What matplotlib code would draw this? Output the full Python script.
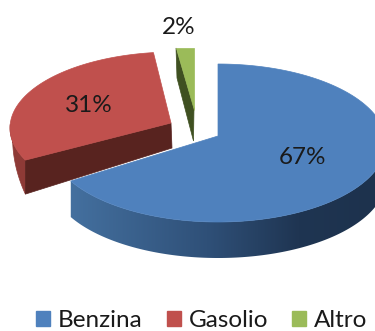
import numpy as np
import matplotlib
matplotlib.use("Agg")
import matplotlib.pyplot as plt
from matplotlib.patches import Polygon, Patch
from matplotlib.colors import LinearSegmentedColormap

categories = ["Benzina", "Gasolio", "Altro"]
shares = [67, 31, 2]
labels = ["67%", "31%", "2%"]
top_colors = ["#4F81BD", "#C0504D", "#9BBB59"]

plt.rcParams['font.family'] = ['Lato', 'DejaVu Sans']
fig = plt.figure(figsize=(3.75, 3.31), dpi=100)
ax = fig.add_axes([0, 0, 1, 1])
ax.axis("off")

# slice angle spans, clockwise from 12 o'clock
fr = np.array(shares) / sum(shares) * 360
starts = np.concatenate([[0], np.cumsum(fr)[:-1]])
ends = np.cumsum(fr)


def rim(c, rx, ry, a0, a1, n=200):
    t = np.radians(np.linspace(a0, a1, n))
    return np.column_stack([c[0] + rx * np.sin(t), c[1] - ry * np.cos(t)])


# Gasolio (exploded)
c1, a1 = (174, 128), (171, 123)
rim1 = rim(c1, 164, 76, starts[1] + 3.8, ends[1])
low = rim1[rim1[:, 1] > c1[1] - 4]
taper = np.linspace(34, 1, len(low))
under = low + np.column_stack([np.linspace(0, 3, len(low)), taper])
side1 = np.vstack([low, under[::-1]])
ax.add_patch(Polygon(side1, closed=True, fc="#8E3A36", ec="#8E3A36", lw=0.5, zorder=2))
ax.add_patch(Polygon([a1, rim1[0], rim1[0] + [0, 34], (a1[0] + 1, a1[1] + 25)], closed=True,
                     fc="#58231F", ec="#58231F", lw=0.5, zorder=3))
ax.add_patch(Polygon(np.vstack([[a1], rim1]), closed=True, fc=top_colors[1], ec=top_colors[1], lw=0.5, zorder=4))

# Altro (exploded)
ax.add_patch(Polygon([(176, 48), (177, 78), (193.5, 141), (194, 108)], closed=True,
                     fc="#3F5021", ec="#3F5021", lw=0.5, zorder=3))
ax.add_patch(Polygon([(176, 48), (194, 48), (194, 110)], closed=True,
                     fc=top_colors[2], ec=top_colors[2], lw=0.5, zorder=4))

# Benzina
c0, a0 = (218, 143), (218, 136)
rim0 = rim(c0, 168, 79, starts[0], ends[0], 400)
front = rim0[rim0[:, 1] > c0[1] - 8]
front = front[np.argsort(front[:, 0])]
side0 = Polygon(np.vstack([front, front[::-1] + [0, 36]]), closed=True, fc="none", ec="none", zorder=5)
ax.add_patch(side0)
cmap = LinearSegmentedColormap.from_list("side", [(0, "#44709F"), (0.45, "#2F5078"), (0.75, "#1F3552"), (1, "#1D324D")])
grad = np.linspace(0, 1, 256).reshape(1, -1)
im = ax.imshow(grad, cmap=cmap, extent=(70, 375, 331, 0), aspect="auto", zorder=5)
im.set_clip_path(side0)
ax.add_patch(Polygon(np.vstack([[a0], rim0]), closed=True, fc=top_colors[0], ec=top_colors[0], lw=0.5, zorder=6))

ax.set_xlim(0, 375)
ax.set_ylim(331, 0)

for (x, y), t in zip([(303, 157), (89, 105), (179, 27)], labels):
    ax.text(x, y, t, ha="center", va="center", fontsize=17.5, color="#1a1a1a", zorder=8)

handles = [Patch(fc=c, ec=c) for c in top_colors]
ax.legend(handles, categories, loc="center", bbox_to_anchor=(0.538, 0.031), ncol=3, frameon=False,
          fontsize=17.5, handlelength=0.57, handleheight=0.57, handletextpad=0.33, columnspacing=1.0,
          labelcolor="#1a1a1a", borderpad=0, borderaxespad=0)

fig.savefig("out.png", dpi=100)
